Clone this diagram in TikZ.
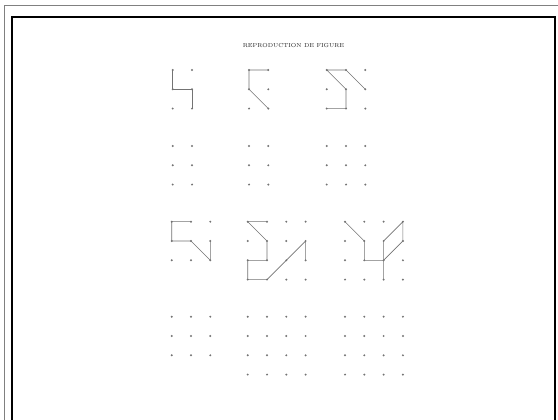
\documentclass[tikz,border=0pt]{standalone}
\begin{document}
\begin{tikzpicture}[x=1pt,y=-1pt,
  pt/.style={circle,fill=black!55,inner sep=0pt,minimum size=2.2pt},
  seg/.style={draw=black!55,line width=0.6pt},
  outerframe/.style={draw=black!50,line width=1.3pt},
  innerframe/.style={draw=black,line width=2pt},
  titletext/.style={font=\fontsize{5.8}{7}\selectfont,text=black!85}]
\useasboundingbox (0,0) rectangle (558,420);
\fill[white] (0,0) rectangle (558,420);
% frames
\draw[outerframe] (4.5,420) -- (4.5,5.5) -- (558,5.5);
\draw[innerframe] (11.5,420) -- (11.5,17.5) -- (554.5,17.5) -- (554.5,420);
\node[titletext] (title) at (293.5,46) {REPRODUCTION DE FIGURE};
\newcommand\dotgrid[5]{%
  \foreach \i in {0,...,#4}{\foreach \j in {0,...,#5}{%
    \node[pt] (#1-\i-\j) at ({#2+\i*19.3},{#3+\j*19.3}) {};}}}
% row 1
\dotgrid{a}{172.7}{70}{1}{2}
\dotgrid{b}{249}{70}{1}{2}
\dotgrid{c}{326.7}{70}{2}{2}
\draw[seg] (a-0-0.center) -- (a-0-1.center) -- (a-1-1.center) -- (a-1-2.center);
\draw[seg] (b-1-0.center) -- (b-0-0.center) -- (b-0-1.center) -- (b-1-2.center);
\draw[seg] (c-1-0.center) -- (c-0-0.center) -- (c-1-1.center) -- (c-1-2.center) -- (c-0-2.center);
\draw[seg] (c-1-0.center) -- (c-2-1.center);
% row 2
\dotgrid{aa}{172.7}{146}{1}{2}
\dotgrid{bb}{249}{146}{1}{2}
\dotgrid{cc}{326.7}{146}{2}{2}
% row 3
\dotgrid{d}{171.7}{221.7}{2}{2}
\dotgrid{e}{247.7}{221.7}{3}{3}
\dotgrid{f}{345}{221.7}{3}{3}
\draw[seg] (d-1-0.center) -- (d-0-0.center) -- (d-0-1.center) -- (d-1-1.center) -- (d-2-2.center) -- (d-2-1.center);
\draw[seg] (e-1-0.center) -- (e-0-0.center) -- (e-1-1.center) -- (e-1-2.center) -- (e-0-2.center) -- (e-0-3.center) -- (e-1-3.center) -- (e-3-1.center) -- (e-3-2.center);
\draw[seg] (f-0-0.center) -- (f-1-1.center) -- (f-1-2.center) -- (f-2-2.center) -- (f-2-3.center);
\draw[seg] (f-2-2.center) -- (f-2-1.center) -- (f-3-0.center) -- (f-3-1.center) -- (f-2-2.center);
% row 4
\dotgrid{g}{171.7}{316.7}{2}{2}
\dotgrid{h}{247.7}{316.7}{3}{3}
\dotgrid{i}{345}{316.7}{3}{3}
\end{tikzpicture}
\end{document}
